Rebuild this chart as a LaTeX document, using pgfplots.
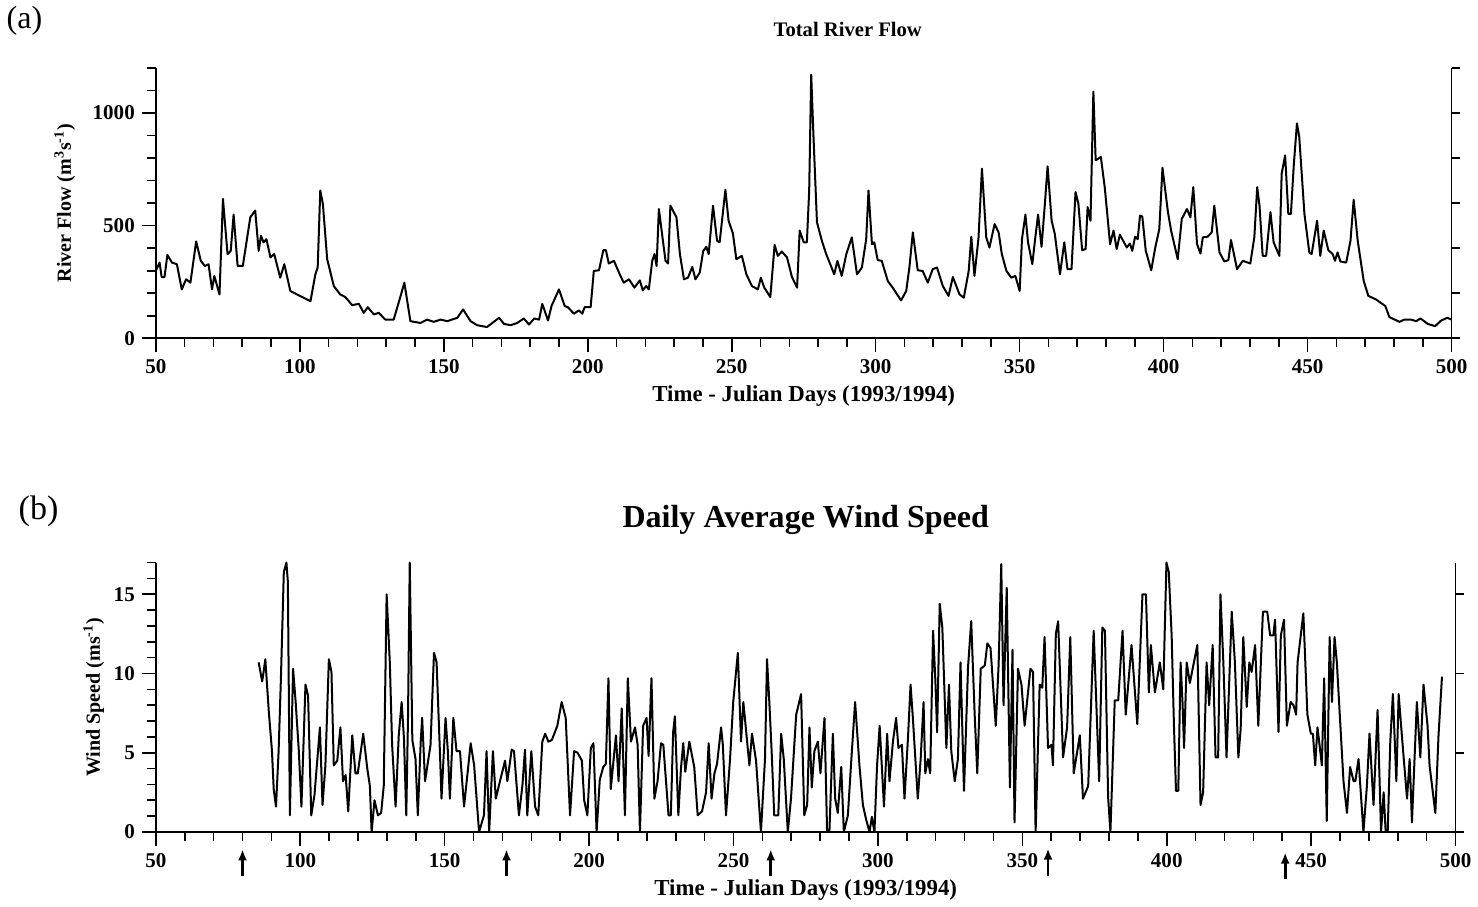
\documentclass[border=0pt]{standalone}
\usepackage{fontspec}
\setmainfont{Liberation Serif}
\usepackage{pgfplots}
\pgfplotsset{compat=1.18}
\usetikzlibrary{arrows.meta}

\pgfplotsset{
  panel/.style={
    scale only axis, clip=false,
    xmin=50, xmax=500,
    axis x line*=bottom, axis y line*=left,
    tick align=outside,
    xtick={50,100,...,500}, minor xtick={50,60,...,500},
    major tick length=7pt, minor tick length=4.5pt,
    tick label style={font=\bfseries\fontsize{10.5}{12}\selectfont},
    /pgf/number format/assume math mode=true,
    /pgf/number format/1000 sep={},
    axis line style={line width=0.9pt},
    tick style={line width=0.8pt, black},
    xlabel={Time - Julian Days (1993/1994)},
    xlabel style={at={(axis description cs:0.5,0)}, anchor=base, yshift=-31.5pt,
      font=\bfseries\fontsize{11.4}{13}\selectfont},
    ylabel style={anchor=center, font=\bfseries\fontsize{10}{12}\selectfont},
  },
  rightax/.style={
    scale only axis, xmin=50, xmax=500,
    axis x line=none, axis y line*=right,
    tick align=outside, yticklabels={}, minor ytick={},
    major tick length=4pt,
    axis line style={line width=0.9pt},
    tick style={line width=0.8pt, black},
  },
  series/.style={black, line width=1pt, line join=round, no marks},
}

\begin{document}
\begin{tikzpicture}

% (a) river flow
\begin{axis}[panel, width=647pt, height=135pt,
  ymin=0, ymax=1200,
  ytick={0,500,1000}, minor ytick={0,100,...,1200},
  ylabel={River Flow (m\textsuperscript{3}s\textsuperscript{-1})},
  ylabel style={at={(axis description cs:-0.0703,0.5)}},
  title={Total River Flow},
  title style={at={(axis description cs:0.5,1)}, anchor=base, yshift=9.5pt, xshift=22pt,
    font=\bfseries\fontsize{10.3}{12}\selectfont}]
\addplot[series] coordinates {
(50,300) (51.3,336) (52,272) (53,272) (54,370) (55.6,336) (57.3,329) (59,217)
(60.5,262) (62,247) (64,430) (65.6,344) (67,321) (68.3,329) (69.5,217) (70.3,277)
(72.1,195) (73.3,619) (74.9,373) (76,388) (77,549) (78.4,321) (80.2,321) (82.8,537)
(84.5,567) (85.7,388) (86.5,455) (87.4,426) (88.4,440) (89.8,359) (91.1,374) (92,329)
(93.2,269) (94.6,329) (96.7,210) (99,195) (103.7,165) (105.4,284) (106.2,314) (107.1,656)
(108,597) (109.5,351) (111.8,232) (114,195) (115.8,183) (118.2,147) (120.5,153) (122.2,113)
(123.6,138) (125.7,106) (127.4,113) (129.7,83) (132.6,83) (135,188) (136.3,247) (138.4,76)
(141.9,68) (144.2,83) (146.5,73) (148.9,83) (151.2,76) (154.7,91) (156.7,128) (159.3,76)
(161.6,58) (165,50) (169.2,91) (170.9,64) (173.2,58) (175.5,68) (177.8,88) (179.6,61)
(181.4,88) (183.1,83) (184.2,153) (186.2,79) (187.4,143) (190,217) (192,143) (193.1,138)
(195.2,109) (196.9,124) (198.1,109) (198.9,138) (201,138) (202.1,299) (203.9,302) (205.4,391)
(206.3,391) (207.3,332) (209.1,344) (211.1,284) (212.5,247) (214.3,262) (216.2,225) (218.1,257)
(219.1,213) (220.3,232) (221.2,217) (222.4,344) (223.2,374) (223.9,321) (224.7,574) (225.8,463)
(227,344) (227.9,332) (228.7,589) (230.8,537) (232,374) (233.4,262) (234.8,269) (236.3,317)
(237.4,262) (238.9,292) (240.1,388) (241.2,406) (242,374) (243.5,589) (244.9,433) (245.8,426)
(247.8,659) (248.9,522) (250.4,466) (251.6,351) (253.5,366) (255.1,284) (257,232) (259.1,217)
(260.1,269) (261.3,225) (263.4,183) (264.9,415) (266,366) (267.4,385) (269.2,359) (270.9,272)
(272.7,225) (273.6,478) (275,426) (276.1,426) (276.9,656) (277.6,1170) (278.4,894) (279.6,515)
(281.3,433) (282.8,374) (284.2,329) (285.6,284) (286.7,344) (288.2,277) (289.8,374) (291.7,448)
(293.5,284) (295.2,314) (296.7,440) (297.5,656) (298.7,418) (299.5,426) (300.7,347) (302.1,344)
(304.2,254) (305.9,225) (308.8,168) (310.6,210) (311.7,314) (312.9,470) (314.6,302) (316.3,299)
(318.1,247) (319.8,307) (321.3,314) (323.3,232) (325.3,188) (326.8,272) (329.1,195) (330.6,180)
(332.3,299) (333.2,451) (334.3,277) (335.7,445) (336.9,753) (338.4,448) (339.5,403) (341.3,507)
(342.7,470) (343.8,374) (345.4,299) (347.1,269) (348.5,277) (350,210) (350.8,440) (352,549)
(352.9,426) (354.4,329) (355.3,433) (356.4,549) (357.6,406) (358.8,604) (359.7,763) (361.1,522)
(362.2,463) (364,284) (365.5,426) (366.6,307) (368,307) (369.4,649) (370.4,597) (371.7,391)
(372.9,396) (373.6,582) (374.6,522) (375.6,1095) (376.4,790) (378.2,805) (379.6,664) (381.4,418)
(382.6,478) (383.7,396) (384.8,460) (387.2,403) (388.3,421) (389.1,388) (390.1,451) (391,440)
(391.8,545) (392.6,540) (393.8,388) (395.7,302) (397.1,403) (398.5,485) (399.6,757) (401.5,560)
(402.6,478) (404.9,351) (406.3,530) (408.1,574) (409.3,537) (410.3,671) (411.6,418) (412.8,376)
(413.6,448) (415.3,451) (416.7,470) (417.6,589) (419.4,381) (421.1,341) (422.5,347) (423.4,436)
(425.5,307) (427.5,344) (430.1,332) (431.5,448) (432.5,671) (433.3,589) (434.4,366) (435.6,366)
(437.1,560) (438.2,426) (440.2,366) (441,731) (442.2,812) (443.3,552) (444.2,552) (445.2,768)
(446.3,954) (447.1,894) (448.9,552) (450.6,381) (451.4,374) (453.3,522) (454.4,366) (455.6,478)
(457.2,391) (458.7,374) (459.5,344) (460.4,381) (461.4,341) (463.4,336) (464.9,433) (466,615)
(467.4,433) (469.5,254) (471.1,188) (473.7,173) (477,143) (478.4,94) (481.9,73) (483.6,83)
(485.9,83) (487.7,76) (489.2,88) (491.7,64) (494.3,54) (496.4,79) (498.5,91) (500,83)
};
\node[anchor=base west, font=\fontsize{16}{18}\selectfont] at (rel axis cs:-0.1206,1.1444) {(a)};
\end{axis}
\begin{axis}[rightax, width=647pt, height=135pt, ymin=0, ymax=1200, ytick={0,200,...,1200}]
\end{axis}

% (b) wind speed
\begin{axis}[panel, at={(0,-246.5pt)}, width=649pt, height=134.5pt,
  ymin=0, ymax=17,
  ytick={0,5,10,15}, minor ytick={0,1,...,17},
  ylabel={Wind Speed (ms\textsuperscript{-1})},
  ylabel style={at={(axis description cs:-0.0478,0.5)}},
  title={Daily Average Wind Speed},
  title style={at={(axis description cs:0.5,1)}, anchor=base, yshift=11.5pt,
    font=\bfseries\fontsize{16}{19}\selectfont}]
\addplot[series] coordinates {
(85.6,10.7) (86.8,9.5) (87.3,10.1) (87.9,10.9) (89.1,7.6) (90.2,5.1) (90.8,2.7) (91.6,1.6)
(92.5,5.1) (93.3,9.7) (94.3,16.4) (95.2,17) (95.7,15.8) (96.4,1.05) (97.5,10.3) (98.4,8.2)
(99.5,5.1) (100.4,1.6) (101.8,9.3) (102.7,8.6) (103.8,1.05) (104.9,2.3) (106.8,6.6) (107.7,1.7)
(108.7,4.2) (109.9,10.9) (110.8,10.1) (111.6,4.2) (112.8,4.5) (113.9,6.6) (114.8,3.2) (115.7,3.6)
(116.6,1.3) (118,6.1) (119.1,3.7) (119.9,3.7) (121.8,6.2) (123.2,4.0) (124.1,2.9) (124.7,0)
(125.7,2.0) (126.9,1.05) (128,1.2) (128.9,2.9) (129.9,15) (131,10.7) (131.8,5.5) (133,1.6)
(134.1,6.1) (135.1,8.2) (135.9,5.9) (136.7,1.05) (137.3,7.2) (137.9,17) (138.8,5.8) (139.9,4.6)
(140.7,1.05) (141.7,5.7) (142.2,7.2) (143.2,3.2) (145.1,5.5) (146.3,11.3) (147.2,10.7) (148.4,4.8)
(148.9,2.1) (150.3,7.2) (151.1,5.1) (151.8,2.1) (153,7.2) (154.1,5.1) (155.3,5.1) (156.7,1.6)
(159,5.6) (160.2,4.2) (161.9,0) (163.6,1.05) (164.5,5.1) (165.4,0) (166.7,5.1) (167.7,2.1)
(169.4,3.4) (170.9,4.5) (171.7,3.2) (173.2,5.2) (174,5.1) (175.7,1.05) (176.9,2.9) (177.8,5.2)
(178.6,1.05) (180,5.1) (181.3,1.6) (182.4,1.05) (183.8,5.7) (184.8,6.2) (185.9,5.7) (187.1,5.8)
(189,6.7) (190.5,8.2) (191.9,7.2) (193.4,1.05) (194.8,5.1) (196,5.0) (197.5,4.5) (198.3,2.0)
(199.4,1.05) (200.6,5.3) (201.5,5.6) (202.6,0) (203.7,3.3) (204.9,4.1) (205.8,4.3) (206.7,9.7)
(207.5,2.7) (209.3,6.1) (210.2,3.2) (211.3,7.8) (212.4,1.05) (213.4,9.7) (214.5,5.7) (215.9,6.6)
(216.8,5.5) (217.6,0) (218.7,6.7) (219.9,7.2) (220.6,4.8) (221.6,9.7) (222.6,2.1) (223.7,3.2)
(224.9,5.6) (225.7,5.5) (227.5,1.05) (228.3,1.05) (229.1,6.3) (229.7,7.3) (230.9,1.05) (231.8,4.0)
(232.6,5.6) (233.3,3.8) (234.7,5.7) (236.4,4.1) (237.6,1.05) (239.1,1.3) (240.5,2.5) (241.4,5.6)
(242.4,2.1) (243.4,3.7) (244.3,4.3) (245.7,6.6) (246.3,5.5) (247.4,1.05) (248.8,4.6) (249.9,8.2)
(251.5,11.3) (252.6,5.7) (253.4,8.2) (254.3,6.5) (255.5,4.2) (256.4,6.2) (257.8,4.5) (259.5,0)
(260.9,4.6) (261.6,10.9) (262.4,8.2) (263.2,5.1) (264.1,1.05) (265.5,1.05) (266.5,6.2) (267.4,4.6)
(268.8,0) (269.9,2.1) (271.7,7.4) (273.4,8.7) (274.5,1.05) (275.5,1.7) (276.3,6.6) (277.1,2.8)
(278,5.1) (279.2,5.7) (280.1,3.7) (281.5,7.2) (282.4,0) (283.2,0) (284.4,6.2) (285.2,2.1)
(286.1,1.2) (287.3,4.1) (288.2,0) (289.6,1.05) (290.7,4.3) (292.1,8.2) (293.6,4.2) (294.8,1.7)
(295.9,0.8) (297.1,0) (297.9,0.95) (298.8,0) (299.7,4.2) (300.6,6.7) (302.1,1.6) (303.2,6.2)
(304,3.2) (305.2,5.7) (306.3,7.2) (307.1,5.3) (308.3,5.5) (309.2,2.1) (310.4,5.9) (311.3,9.3)
(312.1,7.2) (313.8,2.1) (314.8,4.6) (315.8,8.2) (316.4,3.7) (317.3,4.6) (318.1,3.7) (319.1,12.7)
(319.9,9.5) (320.5,6.3) (321.4,14.4) (322.3,12.9) (323.7,5.3) (324.6,9.3) (325.4,5.1) (326.6,3.2)
(327.7,4.6) (328.6,10.7) (329.8,2.6) (331.2,10.4) (332.3,13.3) (333.5,7.4) (334.4,3.7) (335.6,10.3)
(337,10.5) (337.9,11.9) (339,11.6) (340.8,6.7) (341.8,10.6) (342.7,16.9) (343.5,8.0) (344.6,15.4)
(345.7,2.8) (346.6,11.5) (347.3,0.6) (348.5,10.3) (349.7,9.3) (350.8,6.7) (352.8,10.3) (353.7,10.1)
(354.6,0) (356,9.3) (356.9,9.1) (357.7,12.3) (358.9,5.3) (360.1,5.5) (360.6,4.2) (361.6,12.5)
(362.4,13.3) (364.1,4.7) (365.5,6.6) (366.6,12.3) (367.8,3.7) (369.9,6.1) (371,2.1) (372.8,2.9)
(374.7,12.7) (376.6,3.2) (377.7,12.9) (378.6,12.7) (379.7,2.2) (380.5,0) (382,8.3) (383.2,8.3)
(384.7,12.7) (385.8,7.4) (387.8,11.8) (389.8,6.8) (391.6,15) (392.8,15) (393.8,8.8) (394.5,11.8)
(395.9,8.8) (397.6,10.7) (398.8,9.0) (399.9,17) (400.7,16.4) (401.7,12.4) (402.5,6.7) (403.2,2.6)
(404,2.6) (404.8,10.7) (405.5,8.0) (406,5.3) (406.9,10.7) (408,9.4) (410.6,11.8) (411.7,1.7)
(412.6,2.5) (413.8,10.7) (414.7,8.0) (415.9,11.8) (416.9,4.7) (417.8,4.7) (418.6,15) (419.6,10.7)
(420.7,4.7) (422.5,13.9) (423.6,10.7) (424.8,4.7) (425.6,6.5) (426.5,12.3) (427.7,7.9) (428.6,10.7)
(429.4,10.1) (430.6,11.8) (431.7,6.7) (433.3,13.9) (434.8,13.9) (435.8,12.4) (436.9,12.4) (437.5,13.4)
(438.7,6.3) (439.5,12.4) (440.6,13.4) (441.6,6.7) (442.9,8.2) (443.9,8.0) (444.8,7.4) (445.3,10.7)
(447.3,13.8) (448.7,7.4) (449.9,6.2) (450.6,6.2) (451.4,4.2) (452.2,6.6) (452.9,5.5) (453.7,4.2)
(454.5,9.7) (455.4,0.7) (456.4,12.3) (457.2,8.2) (458.1,12.3) (458.9,10.7) (461.2,3.2) (462.4,1.2)
(463.5,4.1) (464.7,3.2) (465.3,3.2) (466.4,4.6) (468.1,0) (469.3,2.9) (470.2,6.2) (471.6,1.7)
(473,7.7) (474.2,0) (475.1,2.5) (475.8,0) (476.5,0) (477.4,5.7) (478.3,8.7) (479.5,3.2)
(480.3,8.7) (481.4,6.1) (483.2,2.1) (484.1,4.6) (484.9,0.6) (486.6,8.2) (487.8,4.7) (488.9,9.3)
(490.3,6.7) (491,4.2) (493,1.2) (494.1,6.1) (495.3,9.8)
};
% event markers below the axis
\addplot[black, line width=1.4pt, -{Latex[length=5.5pt,width=4.5pt]},
  quiver={u=0, v=1.7}] coordinates {
(80,-2.8) (171.4,-2.8) (262.9,-2.8) (358.9,-2.75) (441,-3.0)
};
\node[anchor=base west, font=\fontsize{17}{19}\selectfont] at (rel axis cs:-0.111,1.16) {(b)};
\end{axis}
\begin{axis}[rightax, at={(0,-246.5pt)}, width=649pt, height=134.5pt, ymin=0, ymax=17, ytick={0,5,10,15}]
\end{axis}

\end{tikzpicture}
\end{document}
